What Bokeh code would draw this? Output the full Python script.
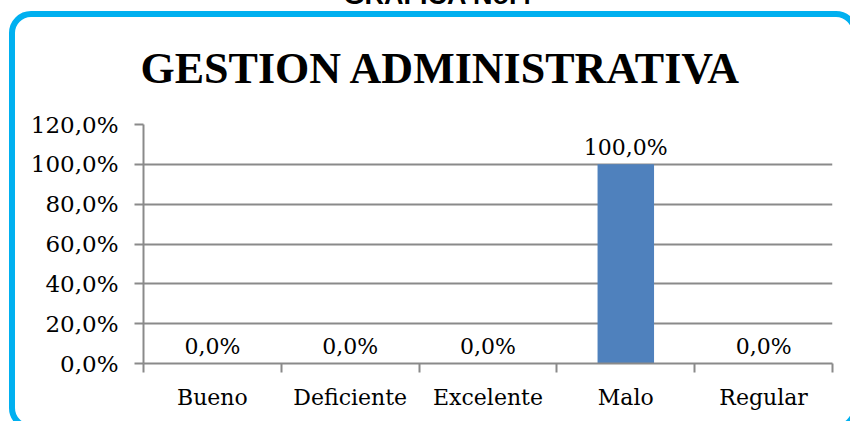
from bokeh.plotting import figure
from bokeh.models import (Range1d, FixedTicker, Title, ColumnDataSource, InlineStyleSheet)
from bokeh.core.properties import value
from bokeh.embed import file_html
from bokeh.resources import INLINE

categories = ["Bueno", "Deficiente", "Excelente", "Malo", "Regular"]
values = [0.0, 0.0, 0.0, 1.0, 0.0]
y_ticks = [0.0, 0.2, 0.4, 0.6, 0.8, 1.0, 1.2]
y_tick_labels = ["0,0%", "20,0%", "40,0%", "60,0%", "80,0%", "100,0%", "120,0%"]
title_text = "GESTION ADMINISTRATIVA"
header_text = "GRAFICA No.4"

GRAY = "#8a8a8a"
SERIF = "DejaVu Serif"
SHIFT = 26  # canvas extends above the page so that the cut-off header can be drawn

x_pos = [i + 0.5 for i in range(len(categories))]
data_labels = [("%.1f%%" % (v * 100)).replace(".", ",") for v in values]
src = ColumnDataSource(dict(x=x_pos, top=values, lab=data_labels))

border_css = InlineStyleSheet(css="""
:host { position: relative; overflow: hidden; }
:host::after {
  content: "";
  position: absolute;
  left: 9px; top: %dpx;
  width: 849px; height: 419px;
  box-sizing: border-box;
  border: 6px solid #00b0f0;
  border-radius: 22px;
  pointer-events: none;
}
""" % (11 + SHIFT))

p = figure(width=850, height=421 + SHIFT, output_backend="svg", toolbar_location=None,
           x_range=Range1d(0, len(categories)), y_range=Range1d(0, 1.2),
           min_border_left=143, min_border_right=18, min_border_top=124 + SHIFT,
           min_border_bottom=58, margin=(-SHIFT, 0, 0, 0), stylesheets=[border_css])
p.outline_line_color = None
p.background_fill_color = "white"
p.border_fill_color = "white"

# header (outermost) as the figure title
p.title.text = header_text
p.title.align = "left"
p.title.offset = 200
p.title.text_font = "Liberation Sans"
p.title.text_font_style = "bold"
p.title.text_font_size = "27px"
p.title.text_color = "black"
p.title.standoff = 0

# main title, closest to the plot frame
p.add_layout(Title(text=title_text, align="left", offset=-3,
                   text_font="Liberation Serif", text_font_style="bold",
                   text_font_size="44px", text_color="black", standoff=64), "above")

p.vbar(x="x", top="top", width=0.41, bottom=0, source=src,
       fill_color="#4f81bd", line_color=None)
p.text(x="x", y="top", text="lab", source=src, y_offset=-17,
       text_align="center", text_baseline="alphabetic",
       text_font=value(SERIF), text_font_size="22px", text_color="black")

xt = FixedTicker(ticks=x_pos, minor_ticks=list(range(len(categories) + 1)))
p.xaxis.ticker = xt
p.xaxis.major_label_overrides = {x: c for x, c in zip(x_pos, categories)}
p.xaxis.major_tick_line_color = None
p.xaxis.major_tick_out = 0
p.xaxis.major_tick_in = 0
p.xaxis.minor_tick_line_color = GRAY
p.xaxis.minor_tick_line_width = 2
p.xaxis.minor_tick_out = 9
p.xaxis.minor_tick_in = 0
p.xaxis.axis_line_color = GRAY
p.xaxis.axis_line_width = 2
p.xaxis.major_label_standoff = 12
p.xaxis.major_label_text_font = SERIF
p.xaxis.major_label_text_font_size = "22px"
p.xaxis.major_label_text_color = "black"

yt = FixedTicker(ticks=y_ticks)
p.yaxis.ticker = yt
p.yaxis.major_label_overrides = {t: l for t, l in zip(y_ticks, y_tick_labels)}
p.yaxis.minor_tick_line_color = None
p.yaxis.major_tick_line_color = GRAY
p.yaxis.major_tick_line_width = 2
p.yaxis.major_tick_out = 9
p.yaxis.major_tick_in = 0
p.yaxis.axis_line_color = GRAY
p.yaxis.axis_line_width = 2
p.yaxis.major_label_standoff = 16
p.yaxis.major_label_text_font = SERIF
p.yaxis.major_label_text_font_size = "23px"
p.yaxis.major_label_text_color = "black"

p.xgrid.grid_line_color = None
p.ygrid.ticker = yt
p.ygrid.grid_line_color = GRAY
p.ygrid.grid_line_width = 2

open("out.html", "w").write(file_html(p, INLINE))
